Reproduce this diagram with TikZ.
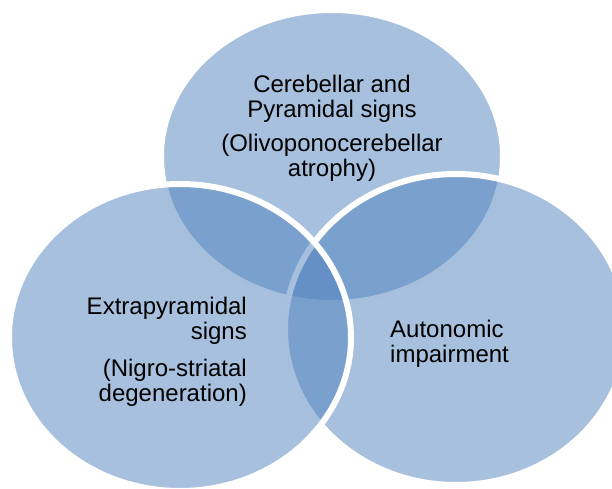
\documentclass[tikz,border=0pt]{standalone}
\usepackage{fontspec}
\setmainfont{Liberation Sans}
\definecolor{vblue}{RGB}{79,129,189}
\begin{document}
\begin{tikzpicture}[x=1pt,y=-1pt,
  vset/.style={fill=vblue, fill opacity=0.5, draw=white, draw opacity=1, line width=6pt},
  vlabel/.style={text=black, inner sep=0pt, font=\fontsize{24}{25}\selectfont}]
\useasboundingbox (0,0) rectangle (612,489);
\begin{scope}
\clip (0,0) rectangle (612,489);
\filldraw[vset] (332,156.5) ellipse [x radius=171pt, y radius=146.5pt];
\filldraw[vset] (456,329.5) ellipse [x radius=171pt, y radius=155.5pt];
\filldraw[vset] (180,337.5) ellipse [x radius=171pt, y radius=153.5pt];
\end{scope}
\node[vlabel, align=center, anchor=north] (toplabel) at (332,74.7)
  {Cerebellar and\\Pyramidal signs\\[9pt](Olivoponocerebellar\\atrophy)};
\node[vlabel, align=right, anchor=north east] (leftlabel) at (247,296.7)
  {Extrapyramidal\\signs\\[12pt](Nigro-striatal\\degeneration)};
\node[vlabel, align=left, anchor=north west] (rightlabel) at (390,319.7)
  {Autonomic\\impairment};
\end{tikzpicture}
\end{document}
